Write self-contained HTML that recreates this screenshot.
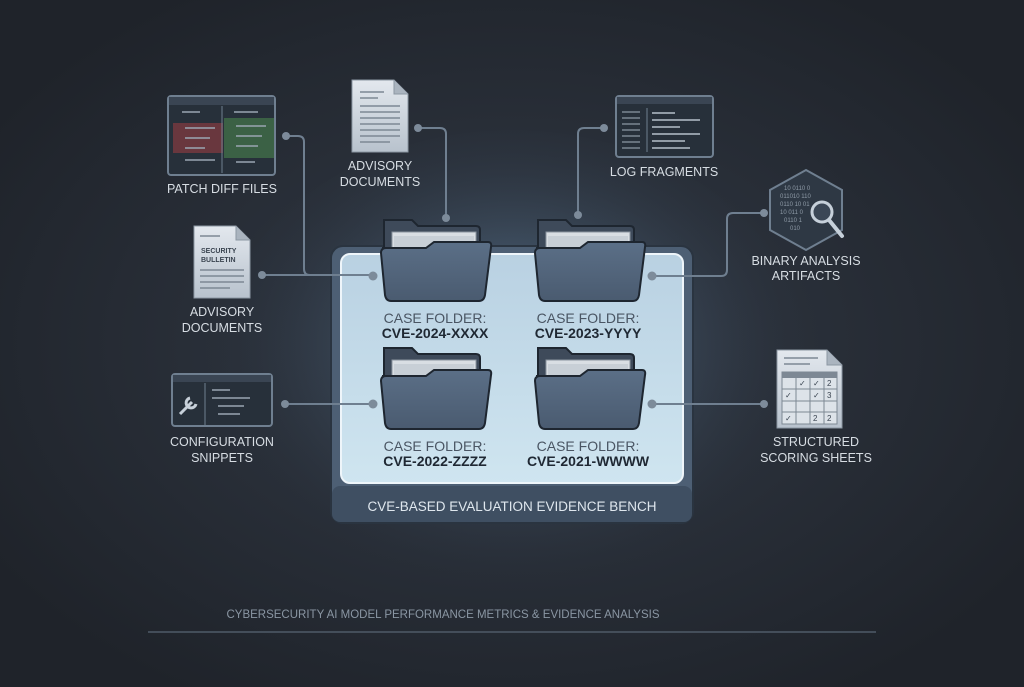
<!DOCTYPE html>
<html><head><meta charset="utf-8"><style>
html,body{margin:0;padding:0;background:#22272e;}
svg{display:block}
text{font-family:"Liberation Sans",sans-serif;}
</style></head><body>
<svg width="1024" height="687" viewBox="0 0 1024 687" xmlns="http://www.w3.org/2000/svg">
<defs>
<radialGradient id="bg" cx="0.5" cy="0.5" r="0.6">
<stop offset="0" stop-color="#323a46"/><stop offset="1" stop-color="#1f232a"/></radialGradient>
<radialGradient id="glow" cx="0.5" cy="0.45" r="0.5">
<stop offset="0" stop-color="#7aa8d0" stop-opacity="0.6"/><stop offset="1" stop-color="#2a3340" stop-opacity="0"/></radialGradient>
<linearGradient id="inner" x1="0" y1="0" x2="0" y2="1">
<stop offset="0" stop-color="#b9d1e2"/><stop offset="1" stop-color="#cfe5f0"/></linearGradient>
<linearGradient id="fold" x1="0" y1="0" x2="0" y2="1">
<stop offset="0" stop-color="#5b6f87"/><stop offset="1" stop-color="#4a5b70"/></linearGradient>
<linearGradient id="doc" x1="0" y1="0" x2="0" y2="1">
<stop offset="0" stop-color="#e3e8ee"/><stop offset="1" stop-color="#b8c2cd"/></linearGradient>
<g id="folder">
<path d="M2 -28 h28 l6 6 h58 q4 0 4 4 v40 h-96 z" fill="#3e4a5a" stroke="#1e2630" stroke-width="2"/>
<rect x="10" y="-16" width="84" height="20" fill="#d9dee3" stroke="#8a949f"/>
<rect x="12" y="-12" width="80" height="20" fill="#c8cfd6"/>
<path d="M0 0 h44 l8 -6 h54 q4 0 3 5 l-6 48 q-1 6 -6 6 h-88 q-5 0 -6 -6 l-4 -42 q0 -5 5 -5z" fill="url(#fold)" stroke="#1e2630" stroke-width="2"/>
</g>
</defs>
<rect width="1024" height="687" fill="url(#bg)"/>
<ellipse cx="512" cy="370" rx="300" ry="240" fill="url(#glow)"/>

<!-- bench -->
<rect x="331" y="246" width="362" height="277" rx="12" fill="#4d5f74" stroke="#2a3440" stroke-width="2"/>
<rect x="341" y="254" width="342" height="229" rx="9" fill="url(#inner)" stroke="#eef5fa" stroke-width="2"/>
<rect x="332" y="486" width="360" height="36" rx="8" fill="#3f4f62"/>
<text x="512" y="511" text-anchor="middle" font-size="13.5" fill="#dfe7ee">CVE-BASED EVALUATION EVIDENCE BENCH</text>

<!-- connectors -->
<g stroke="#6f7f90" stroke-width="2" fill="none">
<path d="M286 136 H298 q6 0 6 6 V269 q0 6 6 6 H373"/>
<path d="M262 275 H373"/>
<path d="M418 128 H440 q6 0 6 6 V218"/>
<path d="M604 128 H584 q-6 0 -6 6 V215"/>
<path d="M764 213 H733 q-6 0 -6 6 V270 q0 6 -6 6 H652"/>
<path d="M285 404 H373"/>
<path d="M652 404 H764"/>
</g>

<use href="#folder" x="382" y="248"/>
<use href="#folder" x="536" y="248"/>
<use href="#folder" x="382" y="376"/>
<use href="#folder" x="536" y="376"/>

<g fill="#7d8b9a">
<circle cx="286" cy="136" r="4"/><circle cx="262" cy="275" r="4"/><circle cx="373" cy="276" r="4.5"/>
<circle cx="418" cy="128" r="4"/><circle cx="446" cy="218" r="4"/>
<circle cx="604" cy="128" r="4"/><circle cx="578" cy="215" r="4"/>
<circle cx="764" cy="213" r="4"/><circle cx="652" cy="276" r="4.5"/>
<circle cx="285" cy="404" r="4"/><circle cx="373" cy="404" r="4.5"/>
<circle cx="652" cy="404" r="4.5"/><circle cx="764" cy="404" r="4"/>
</g>

<g text-anchor="middle" font-size="14">
<text x="435" y="323" fill="#4a5563">CASE FOLDER:</text>
<text x="435" y="338" fill="#1f2833" font-weight="bold">CVE-2024-XXXX</text>
<text x="588" y="323" fill="#4a5563">CASE FOLDER:</text>
<text x="588" y="338" fill="#1f2833" font-weight="bold">CVE-2023-YYYY</text>
<text x="435" y="451" fill="#4a5563">CASE FOLDER:</text>
<text x="435" y="466" fill="#1f2833" font-weight="bold">CVE-2022-ZZZZ</text>
<text x="588" y="451" fill="#4a5563">CASE FOLDER:</text>
<text x="588" y="466" fill="#1f2833" font-weight="bold">CVE-2021-WWWW</text>
</g>

<!-- patch diff window -->
<rect x="168" y="96" width="107" height="79" rx="3" fill="#27303a" stroke="#6f7f90" stroke-width="2"/>
<rect x="169" y="97" width="105" height="8" fill="#3a4553"/>
<rect x="173" y="123" width="50" height="30" fill="#7a3a40" opacity="0.8"/>
<rect x="224" y="118" width="50" height="40" fill="#3f6a48" opacity="0.85"/>
<line x1="222" y1="106" x2="222" y2="173" stroke="#6f7f90"/>
<g stroke="#9aa6b2" stroke-width="1.5"><line x1="182" y1="112" x2="200" y2="112"/><line x1="185" y1="128" x2="215" y2="128"/><line x1="185" y1="138" x2="210" y2="138"/><line x1="185" y1="148" x2="205" y2="148"/><line x1="234" y1="112" x2="258" y2="112"/><line x1="236" y1="126" x2="266" y2="126"/><line x1="236" y1="136" x2="262" y2="136"/><line x1="236" y1="146" x2="258" y2="146"/><line x1="236" y1="162" x2="255" y2="162"/><line x1="185" y1="160" x2="215" y2="160"/></g>
<text x="222" y="193" text-anchor="middle" font-size="12.5" fill="#d7dde3">PATCH DIFF FILES</text>

<!-- top advisory doc -->
<path d="M352 80 h42 l14 14 v58 h-56z" fill="url(#doc)" stroke="#8c97a3"/>
<path d="M394 80 v14 h14" fill="#aab4bf" stroke="#8c97a3"/>
<g stroke="#7d8894" stroke-width="1.5"><line x1="360" y1="92" x2="384" y2="92"/><line x1="360" y1="98" x2="378" y2="98"/><line x1="360" y1="106" x2="400" y2="106"/><line x1="360" y1="112" x2="400" y2="112"/><line x1="360" y1="118" x2="400" y2="118"/><line x1="360" y1="124" x2="400" y2="124"/><line x1="360" y1="130" x2="400" y2="130"/><line x1="360" y1="136" x2="400" y2="136"/><line x1="360" y1="142" x2="390" y2="142"/></g>
<text x="380" y="170" text-anchor="middle" font-size="12.5" fill="#d7dde3">ADVISORY</text>
<text x="380" y="186" text-anchor="middle" font-size="12.5" fill="#d7dde3">DOCUMENTS</text>

<!-- security bulletin -->
<path d="M194 226 h42 l14 14 v58 h-56z" fill="url(#doc)" stroke="#8c97a3"/>
<path d="M236 226 v14 h14" fill="#aab4bf" stroke="#8c97a3"/>
<text x="201" y="253" font-size="7" font-weight="bold" fill="#3a4450">SECURITY</text>
<text x="201" y="262" font-size="7" font-weight="bold" fill="#3a4450">BULLETIN</text>
<g stroke="#7d8894" stroke-width="1.5"><line x1="200" y1="236" x2="220" y2="236"/><line x1="200" y1="270" x2="244" y2="270"/><line x1="200" y1="276" x2="244" y2="276"/><line x1="200" y1="282" x2="244" y2="282"/><line x1="200" y1="288" x2="230" y2="288"/></g>
<text x="222" y="316" text-anchor="middle" font-size="12.5" fill="#d7dde3">ADVISORY</text>
<text x="222" y="332" text-anchor="middle" font-size="12.5" fill="#d7dde3">DOCUMENTS</text>

<!-- config window -->
<rect x="172" y="374" width="100" height="52" rx="3" fill="#27303a" stroke="#6f7f90" stroke-width="2"/>
<rect x="173" y="375" width="98" height="7" fill="#3a4553"/>
<line x1="205" y1="383" x2="205" y2="425" stroke="#6f7f90"/>
<path d="M180 414 l12 -12 m-2 -4 a5 5 0 1 0 6 6" stroke="#c7d0d9" stroke-width="3" fill="none"/>
<g stroke="#9aa6b2" stroke-width="1.5"><line x1="212" y1="390" x2="230" y2="390"/><line x1="212" y1="398" x2="250" y2="398"/><line x1="218" y1="406" x2="244" y2="406"/><line x1="218" y1="414" x2="240" y2="414"/></g>
<text x="222" y="446" text-anchor="middle" font-size="12.5" fill="#d7dde3">CONFIGURATION</text>
<text x="222" y="462" text-anchor="middle" font-size="12.5" fill="#d7dde3">SNIPPETS</text>

<!-- log window -->
<rect x="616" y="96" width="97" height="61" rx="3" fill="#27303a" stroke="#6f7f90" stroke-width="2"/>
<rect x="617" y="97" width="95" height="7" fill="#3a4553"/>
<line x1="647" y1="108" x2="647" y2="152" stroke="#6f7f90"/>
<g stroke="#8c98a4" stroke-width="1.2"><line x1="622" y1="112" x2="640" y2="112"/><line x1="622" y1="118" x2="640" y2="118"/><line x1="622" y1="124" x2="640" y2="124"/><line x1="622" y1="130" x2="640" y2="130"/><line x1="622" y1="136" x2="640" y2="136"/><line x1="622" y1="142" x2="640" y2="142"/><line x1="622" y1="148" x2="640" y2="148"/></g>
<g stroke="#b5c0ca" stroke-width="1.5"><line x1="652" y1="113" x2="675" y2="113"/><line x1="652" y1="120" x2="700" y2="120"/><line x1="652" y1="127" x2="680" y2="127"/><line x1="652" y1="134" x2="700" y2="134"/><line x1="652" y1="141" x2="685" y2="141"/><line x1="652" y1="148" x2="690" y2="148"/></g>
<text x="664" y="176" text-anchor="middle" font-size="12.5" fill="#d7dde3">LOG FRAGMENTS</text>

<!-- binary hex -->
<polygon points="806,170 842,190 842,230 806,250 770,230 770,190" fill="#2e3844" stroke="#6f7f90" stroke-width="2"/>
<g fill="#8e9aa6" font-size="6" font-family="Liberation Mono,monospace"><text x="784" y="190">10 0110 0</text><text x="780" y="198">011010 110</text><text x="780" y="206">0110 10 01</text><text x="780" y="214">10 011 0</text><text x="784" y="222">0110 1</text><text x="790" y="230">010</text></g>
<circle cx="822" cy="212" r="10" fill="#3b4756" stroke="#c6d0da" stroke-width="3"/>
<line x1="829" y1="220" x2="842" y2="236" stroke="#c6d0da" stroke-width="4" stroke-linecap="round"/>
<text x="806" y="265" text-anchor="middle" font-size="12.5" fill="#d7dde3">BINARY ANALYSIS</text>
<text x="806" y="280" text-anchor="middle" font-size="12.5" fill="#d7dde3">ARTIFACTS</text>

<!-- scoring sheet -->
<path d="M777 350 h50 l15 15 v63 h-65z" fill="url(#doc)" stroke="#8c97a3"/>
<path d="M827 350 v15 h15" fill="#aab4bf" stroke="#8c97a3"/>
<g stroke="#7d8894" stroke-width="1.5"><line x1="784" y1="358" x2="818" y2="358"/><line x1="784" y1="364" x2="810" y2="364"/></g>
<rect x="782" y="372" width="55" height="52" fill="#dde3e9" stroke="#7d8894"/>
<rect x="782" y="372" width="55" height="6" fill="#7d8894"/>
<g stroke="#7d8894"><line x1="782" y1="389" x2="837" y2="389"/><line x1="782" y1="401" x2="837" y2="401"/><line x1="782" y1="412" x2="837" y2="412"/><line x1="796" y1="372" x2="796" y2="424"/><line x1="810" y1="372" x2="810" y2="424"/><line x1="824" y1="372" x2="824" y2="424"/></g>
<g font-size="8" fill="#3a4450"><text x="799" y="386">✓</text><text x="813" y="386">✓</text><text x="827" y="386">2</text><text x="785" y="398">✓</text><text x="813" y="398">✓</text><text x="827" y="398">3</text><text x="785" y="421">✓</text><text x="813" y="421">2</text><text x="827" y="421">2</text></g>
<text x="816" y="446" text-anchor="middle" font-size="12.5" fill="#d7dde3">STRUCTURED</text>
<text x="816" y="462" text-anchor="middle" font-size="12.5" fill="#d7dde3">SCORING SHEETS</text>

<!-- footer -->
<text x="443" y="618" text-anchor="middle" font-size="11.5" fill="#8a96a3">CYBERSECURITY AI MODEL PERFORMANCE METRICS &amp; EVIDENCE ANALYSIS</text>
<line x1="148" y1="632" x2="876" y2="632" stroke="#4f5b68" stroke-width="1.5"/>
</svg>
</body></html>
